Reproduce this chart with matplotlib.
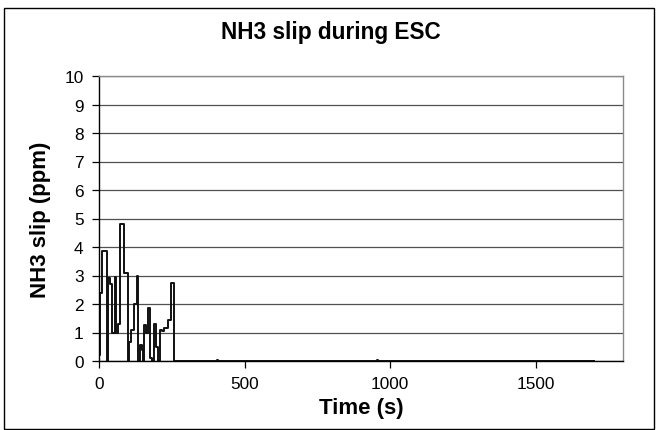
import matplotlib
matplotlib.use("Agg")
import matplotlib.pyplot as plt
from matplotlib.patches import Rectangle

plt.rcParams['font.family'] = ['Liberation Sans', 'DejaVu Sans']

# NH3 slip trace: times (s) at which the reading changes, and the level held from then on
time_s = [0, 5, 9, 26, 30, 38, 45, 55, 60, 66, 73, 86, 99, 103, 110, 119, 129, 133,
          140, 146, 150, 155, 162, 167, 175, 182, 188, 195, 203, 208, 216, 224, 236,
          246, 256, 405, 409, 955, 960, 1700]
nh3_ppm = [0.2, 2.4, 3.85, 0.0, 2.9, 2.7, 1.0, 2.95, 1.0, 1.3, 4.8, 3.1, 0.0, 0.65,
           1.1, 2.0, 3.0, 0.0, 0.55, 0.4, 0.0, 1.25, 1.0, 1.85, 0.1, 0.0, 1.3, 0.5,
           0.0, 1.1, 1.05, 1.15, 1.45, 2.75, 0.0, 0.05, 0.0, 0.05, 0.0, 0.0]

x_ticks = [0, 500, 1000, 1500]
y_ticks = list(range(0, 11))

W, H = 656, 431
fig = plt.figure(figsize=(W / 100, H / 100), dpi=100)
ax = fig.add_axes([99 / W, 1 - 362 / H, (623 - 99) / W, (362 - 77) / H])

ax.plot(time_s, nh3_ppm, drawstyle='steps-post', color='#111111', lw=1.4)

ax.set_xlim(0, 1800)
ax.set_ylim(0, 10)
ax.set_xticks(x_ticks)
ax.set_yticks(y_ticks)
ax.grid(axis='y', color='#505050', lw=0.9)
ax.set_axisbelow(True)

for side in ('top', 'right'):
    ax.spines[side].set_color('#8a8a8a')
    ax.spines[side].set_linewidth(1.0)
for side in ('left', 'bottom'):
    ax.spines[side].set_color('#000000')
    ax.spines[side].set_linewidth(1.0)

ax.tick_params(axis='both', direction='out', length=5, width=0.9,
               labelsize=12.4, colors='#000000', pad=6)

ax.set_xlabel('Time (s)', fontsize=16, fontweight='bold', labelpad=4)
ax.set_ylabel('NH3 slip (ppm)', fontsize=16, fontweight='bold', labelpad=10)

fig.text(331 / W, 1 - 33 / H, 'NH3 slip during ESC', ha='center', va='center',
         fontsize=16.3, fontweight='bold')

# chart frame
fig.patches.append(Rectangle((4 / W, 1 / H), (654 - 4) / W, (422 - 1) / H,
                             transform=fig.transFigure, fill=False,
                             edgecolor='#000000', lw=1.0))

fig.savefig('out.png', dpi=100)
